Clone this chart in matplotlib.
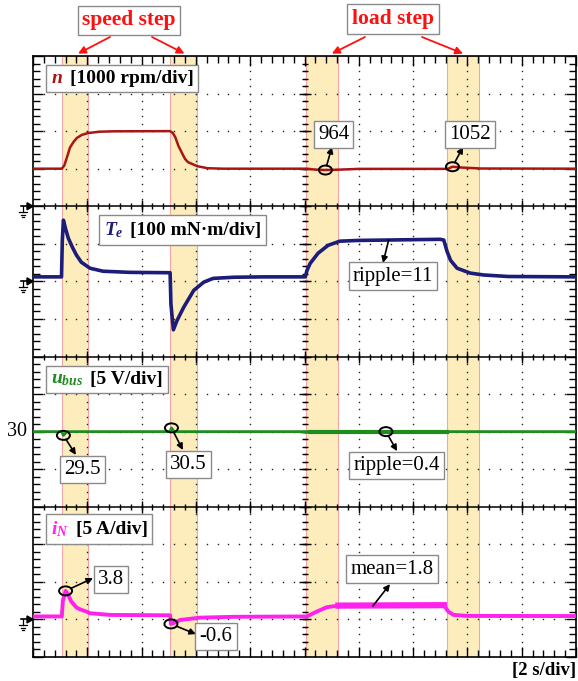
import numpy as np
import matplotlib.pyplot as plt
from matplotlib.patches import Ellipse, Polygon
from matplotlib.offsetbox import TextArea, HPacker, AnnotationBbox

plt.rcParams['font.family'] = ['Liberation Serif', 'DejaVu Serif']
plt.rcParams['mathtext.fontset'] = 'custom'
plt.rcParams['mathtext.rm'] = 'Liberation Serif'
plt.rcParams['mathtext.it'] = 'Liberation Serif:italic:bold'
plt.rcParams['mathtext.bf'] = 'Liberation Serif:bold'

# ---- data (time in s) ----
speed_bands = [(1.06, 2.04), (5.05, 6.05)]
load_bands = [(10.07, 11.25), (15.26, 16.44)]

t_n = [0, 1.06, 1.15, 1.25, 1.36, 1.5, 1.62, 1.8, 2.03, 2.47, 3.0, 5.05, 5.15, 5.24,
       5.36, 5.49, 5.6, 5.71, 6.05, 6.42, 7.0, 10.08, 10.4, 10.77, 11.3, 12.0,
       15.28, 15.45, 15.8, 16.5, 20]
n_rpm = [1000, 1000, 1080, 1300, 1560, 1720, 1820, 1900, 1950, 1985, 1995, 2000, 1950, 1840,
         1600, 1413, 1260, 1173, 1067, 1013, 1000, 1000, 975, 964, 975, 995,
         995, 1052, 1030, 1005, 1000]

t_te = [0, 1.05, 1.08, 1.12, 1.2, 1.3, 1.45, 1.6, 1.78, 2.0, 2.1, 2.58, 3.57, 5.05, 5.08,
        5.17, 5.3, 5.55, 5.92, 6.29, 6.53, 6.64, 7.4, 8.5, 10.03, 10.09, 10.21, 10.5,
        10.87, 11.3, 11.97, 15.0, 15.13, 15.25, 15.38, 15.62, 16.11, 16.6, 17.5, 20]
te_mNm = [12, 12, 110, 163, 140, 115, 91, 70, 51, 40, 35, 27, 24, 23, -60,
          -129, -105, -69, -24, -2, 5, 8, 11, 12, 12, 29, 48, 75,
          96, 107, 109, 112, 110, 80, 56, 35, 22, 17, 13, 12]

t_u = [0, 1.06, 1.12, 1.25, 5.05, 5.1, 5.2, 20]
u_bus = [30, 30, 29.5, 30, 30, 30.5, 30, 30]
t_u_load = [10.2, 15.25]
u_load = [30, 30]

t_i = [0, 1.06, 1.1, 1.2, 1.28, 1.41, 1.6, 1.72, 2.0, 2.09, 2.84, 5.05, 5.08, 5.2, 5.42,
       6.16, 7.4, 10.09, 10.45, 10.82, 11.25, 15.13, 15.3, 15.49, 15.98, 20]
i_N = [0.4, 0.4, 2.5, 3.8, 3.4, 2.37, 1.6, 1.36, 1.0, 0.83, 0.6, 0.55, -0.6, -0.45, -0.07,
       0.24, 0.35, 0.4, 1.04, 1.63, 1.84, 1.9, 1.04, 0.6, 0.47, 0.45]
t_i_load = [11.25, 15.13]
i_load = [1.84, 1.9]

# channel scaling: (zero position in div, units per div)
n_pos, n_scale = 12, 1000
te_pos, te_scale = 10, 100
u_pos, u_scale = 0, 5
i_pos, i_scale = 1, 5

c_n = '#aa1414'
c_te = '#1c1c7a'
c_u = '#1e8c1e'
c_i = '#ff22ee'

W, H = 578, 681
fig = plt.figure(figsize=(W / 100, H / 100), dpi=100)
ax = fig.add_axes([33 / W, 24 / H, 543 / W, 601 / H])
ax.set_xlim(0, 20)
ax.set_ylim(0, 16)
sx = 20 / 543   # s per pixel
sy = 16 / 601   # div per pixel

# shaded step intervals
for a, b in speed_bands + load_bands:
    ax.axvspan(a, b, fc='#fdecbc', ec='#f2a6a6', lw=0.8, zorder=0)

# dotted graticule
xs = np.arange(0.4, 20, 0.4)
ys = np.arange(0.2, 16, 0.2)
for gy in [1, 2, 3, 5, 6, 7, 9, 10, 11, 13, 14, 15]:
    ax.plot(xs, np.full(len(xs), gy), ls='none', marker='s', ms=1.0, mew=0, color='#222222', zorder=1)
for gx in [2, 4, 6, 8, 10, 12, 14, 16, 18]:
    ax.plot(np.full(len(ys), gx), ys, ls='none', marker='s', ms=1.0, mew=0, color='#222222', zorder=1)

# panel separators and centre line with cross ticks
for sep in [4, 8, 12]:
    ax.axhline(sep, color='black', lw=1.1, zorder=2)
    ax.plot(xs, np.full(len(xs), sep), ls='none', marker='|', ms=5, mew=1, color='black', zorder=2)
    ax.plot(np.arange(2, 20, 2), np.full(9, sep), ls='none', marker='|', ms=8, mew=1, color='black', zorder=2)
ax.plot(np.full(len(ys), 10), ys, ls='none', marker='_', ms=5, mew=1, color='black', zorder=2)
ax.plot(np.full(15, 10), np.arange(1, 16), ls='none', marker='_', ms=8, mew=1, color='black', zorder=2)

ax.set_xticks(np.arange(0, 21, 2))
ax.set_xticks(xs, minor=True)
ax.set_yticks(np.arange(0, 17, 1))
ax.set_yticks(ys, minor=True)
ax.tick_params(which='both', direction='in', top=True, right=True,
               labelbottom=False, labelleft=False, width=1, color='black')
ax.tick_params(which='major', length=7)
ax.tick_params(which='minor', length=5)
for s in ax.spines.values():
    s.set_linewidth(1.2)

# waveforms
ax.plot(t_n, n_pos + np.array(n_rpm) / n_scale, color=c_n, lw=1.8, zorder=3)
ax.plot(t_te, te_pos + np.array(te_mNm) / te_scale, color=c_te, lw=2.6, zorder=3)
ax.plot(t_u, u_pos + np.array(u_bus) / u_scale, color=c_u, lw=2.0, zorder=3)
ax.plot(t_u_load, u_pos + np.array(u_load) / u_scale, color=c_u, lw=3.0, zorder=3)
ax.plot(t_i, i_pos + np.array(i_N) / i_scale, color=c_i, lw=2.8, zorder=3)
ax.plot(t_i_load, i_pos + np.array(i_load) / i_scale, color=c_i, lw=4.5, zorder=3)

# ground markers
def ground(yd):
    ax.add_patch(Polygon([(0, yd), (-6 * sx, yd + 3.5 * sy), (-6 * sx, yd - 3.5 * sy)],
                         closed=True, color='black', clip_on=False, zorder=4))
    ax.plot([-12 * sx, 0], [yd, yd], color='black', lw=1.2, clip_on=False)
    gx = -10 * sx
    ax.plot([gx, gx], [yd, yd - 6 * sy], color='black', lw=0.9, clip_on=False)
    for k, half in enumerate([4, 2.5, 1]):
        yy = yd - (6 + 2.3 * k) * sy
        ax.plot([gx - half * sx, gx + half * sx], [yy, yy], color='black', lw=0.9, clip_on=False)

ground(n_pos)
ground(te_pos)
ground(i_pos)

# channel labels
def channel_label(x, y, sym, color, rest):
    a = TextArea(sym, textprops=dict(color=color, fontsize=14, fontweight='bold', fontstyle='italic'))
    b = TextArea(rest, textprops=dict(color='black', fontsize=14, fontweight='bold'))
    box = HPacker(children=[a, b], align='baseline', pad=0, sep=5)
    ab = AnnotationBbox(box, (x, y), xycoords='data', box_alignment=(0, 0.5), pad=0.35,
                        frameon=True, bboxprops=dict(ec='#8a8a8a', lw=1, fc='white'),
                        zorder=6)
    ax.add_artist(ab)

channel_label(0.66, 15.40, r'$n$', c_n, '[1000 rpm/div]')
channel_label(2.6, 11.37, r'$T_e$', c_te, '[100 mN\u00b7m/div]')
channel_label(0.66, 7.39, r'$u_{bus}$', c_u, '[5 V/div]')
channel_label(0.66, 3.41, r'$i_N$', c_i, '[5 A/div]')

# value callouts: text, circle centre (t, div), box centre, arrow end
box_style = dict(boxstyle='square,pad=0.2', fc='white', ec='#8a8a8a', lw=1)
callouts = [
    ('964', (10.77, n_pos + 964 / n_scale), (11.07, 13.91), (11.01, 13.58)),
    ('1052', (15.45, n_pos + 1052 / n_scale), (16.08, 13.91), (15.84, 13.58)),
    ('29.5', (1.12, u_pos + 29.5 / u_scale), (1.82, 4.99), (1.58, 5.38)),
    ('30.5', (5.10, u_pos + 30.5 / u_scale), (5.73, 5.12), (5.52, 5.51)),
    ('ripple=0.4', (13.0, u_pos + 30 / u_scale), (13.39, 5.10), (13.41, 5.48)),
    ('3.8', (1.20, i_pos + 3.8 / i_scale), (2.87, 2.06), (2.21, 2.10)),
    ('-0.6', (5.08, i_pos - 0.6 / i_scale), (6.74, 0.55), (6.00, 0.61)),
]
ew, eh = 13, 9  # circle size in px
for txt, (cx, cy), (bx, by), (ex, ey) in callouts:
    ax.text(bx, by, txt, ha='center', va='center', fontsize=15, bbox=box_style, zorder=6)
    ax.add_patch(Ellipse((cx, cy), ew * sx, eh * sy, fill=False, ec='black', lw=1.4, zorder=5))
    dx, dy = (ex - cx) / sx, (ey - cy) / sy
    ang = np.arctan2(dy, dx)
    r = 1 / np.sqrt((np.cos(ang) / (ew / 2)) ** 2 + (np.sin(ang) / (eh / 2)) ** 2)
    st = (cx + r * np.cos(ang) * sx, cy + r * np.sin(ang) * sy)
    ax.annotate('', xy=(ex, ey), xytext=st,
                arrowprops=dict(arrowstyle='-|>', color='black', lw=1.2, mutation_scale=9,
                                shrinkA=0, shrinkB=0), zorder=5)

# callouts without circle
ax.text(13.26, 10.14, 'ripple=11', ha='center', va='center', fontsize=15, bbox=box_style, zorder=6)
ax.annotate('', xy=(12.89, 10.49), xytext=(13.1, te_pos + 110 / te_scale),
            arrowprops=dict(arrowstyle='-|>', color='black', lw=1.2, mutation_scale=9, shrinkA=0, shrinkB=0))
ax.text(13.22, 2.34, 'mean=1.8', ha='center', va='center', fontsize=15, bbox=box_style, zorder=6)
ax.annotate('', xy=(13.15, 1.94), xytext=(12.52, i_pos + 1.8 / i_scale),
            arrowprops=dict(arrowstyle='-|>', color='black', lw=1.2, mutation_scale=9, shrinkA=0, shrinkB=0))

# step labels above the screen
red_box = dict(boxstyle='square,pad=0.22', fc='white', ec='#8a8a8a', lw=1)
fig.text(129 / W, 1 - 20.5 / H, 'speed step', color='#ff1010', fontsize=15.5, fontweight='bold',
         ha='center', va='center', bbox=red_box)
fig.text(393 / W, 1 - 19 / H, 'load step', color='#ff1010', fontsize=15.5, fontweight='bold',
         ha='center', va='center', bbox=red_box)
top = ax.get_xaxis_transform()
for tx, (px, py) in [(1.66, (110, 37)), (5.58, (152, 37)), (11.01, (365, 37)), (15.84, (422, 37))]:
    ax.annotate('', xy=(tx, 1.004), xycoords=top, xytext=(px, H - py), textcoords='figure pixels',
                arrowprops=dict(arrowstyle='-|>', color='#ff1010', lw=1.3, mutation_scale=11,
                                shrinkA=0, shrinkB=0), annotation_clip=False)

fig.text(17 / W, 1 - 432 / H, '30', fontsize=14.5, ha='center', va='center')
fig.text(576 / W, 1 - 671 / H, '[2 s/div]', fontsize=13.5, fontweight='bold', ha='right', va='center')

fig.savefig('out.png', dpi=100)
